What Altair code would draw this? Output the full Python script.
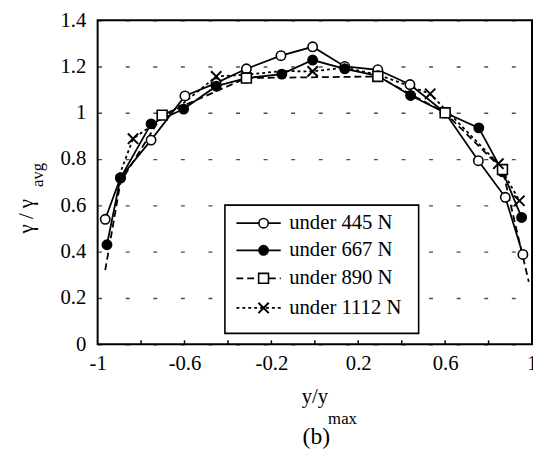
import altair as alt
import pandas as pd

# ---------------- data ----------------
X_445 = [-0.965, -0.895, -0.754, -0.598, -0.455, -0.315, -0.156, -0.010, 0.138, 0.290, 0.438, 0.600, 0.753, 0.877, 0.958]
Y_445 = [0.540, 0.720, 0.882, 1.073, 1.128, 1.190, 1.247, 1.285, 1.200, 1.186, 1.122, 1.000, 0.793, 0.635, 0.388]

X_667 = [-0.957, -0.895, -0.754, -0.604, -0.454, -0.315, -0.152, -0.010, 0.138, 0.290, 0.441, 0.600, 0.755, 0.865, 0.952]
Y_667 = [0.430, 0.718, 0.952, 1.016, 1.115, 1.150, 1.167, 1.228, 1.190, 1.160, 1.075, 1.000, 0.935, 0.745, 0.548]

X_890 = [-0.965, -0.895, -0.703, -0.315, 0.290, 0.600, 0.864, 0.985]
Y_890 = [0.320, 0.700, 0.990, 1.150, 1.157, 1.000, 0.755, 0.270]
M_890 = [False, False, True, True, True, True, True, False]

X_1112 = [-0.900, -0.837, -0.600, -0.454, -0.315, -0.152, -0.010, 0.138, 0.290, 0.438, 0.531, 0.845, 0.942]
Y_1112 = [0.730, 0.888, 1.045, 1.157, 1.165, 1.180, 1.179, 1.195, 1.165, 1.115, 1.082, 0.780, 0.620]
M_1112 = [False, True, False, True, False, False, True, False, False, False, True, True, True]

LABELS = ["under 445 N", "under 667 N", "under 890 N", "under 1112 N"]

X_TICKS = [-1, -0.8, -0.6, -0.4, -0.2, 0, 0.2, 0.4, 0.6, 0.8, 1]
X_MINOR = [-0.8, -0.6, -0.4, -0.2, 0, 0.2, 0.4, 0.6, 0.8]
Y_TICKS = [0, 0.2, 0.4, 0.6, 0.8, 1.0, 1.2, 1.4]

# ---------------- layout / style ----------------
W, H = 441, 329
FONT = "Liberation Serif"
XPATH = "M-1,-1L1,1M-1,1L1,-1"

STYLES = [
    dict(dash=None, shape="circle", fill="white", size=90, sw=1.6),
    dict(dash=None, shape="circle", fill="black", size=90, sw=1.6),
    dict(dash=[7, 4], shape="square", fill="white", size=100, sw=1.6),
    dict(dash=[3, 3], shape=XPATH, fill=None, size=110, sw=2.0),
]

# legend layout in data units
LEG_BOX = dict(x=-0.414, x2=0.478, y=0.047, y2=0.601)
LEG_ROWS = [0.523, 0.406, 0.285, 0.157]
LEG_LINE = (-0.361, -0.157)
LEG_SYM = -0.236
LEG_TEXT = -0.118

xs = alt.Scale(domain=[-1, 1], nice=False, zero=False)
ys = alt.Scale(domain=[0, 1.4], nice=False, zero=False)

xaxis = alt.Axis(
    values=X_TICKS,
    labelExpr="(abs(round(datum.value*10)) % 4 == 2) ? ((datum.value < 0 ? '-' : '') + format(abs(datum.value), '~g')) : ''",
    ticks=False, grid=False, domain=False,
    labelFont=FONT, labelFontSize=21, labelColor="black", labelPadding=9,
    labelFlush=False, labelOverlap=False, labelBound=False, title=None,
)
yaxis = alt.Axis(
    values=Y_TICKS,
    labelExpr="format(datum.value, '~g')",
    ticks=False, grid=True, gridDash=[4, 24], gridColor="black", gridWidth=1.4, gridOpacity=0.7,
    domain=False,
    labelFont=FONT, labelFontSize=21, labelColor="black", labelPadding=12,
    labelOverlap=False, labelBound=False, title=None,
)


def X(field="x"):
    return alt.X(f"{field}:Q", scale=xs, axis=xaxis)


def Y(field="y"):
    return alt.Y(f"{field}:Q", scale=ys, axis=yaxis)


series = [
    (X_445, Y_445, [True] * len(X_445)),
    (X_667, Y_667, [True] * len(X_667)),
    (X_890, Y_890, M_890),
    (X_1112, Y_1112, M_1112),
]

line_layers = []
point_layers = []
for (xv, yv, mv), st in zip(series, STYLES):
    df = pd.DataFrame({"x": xv, "y": yv, "m": mv})
    lkw = dict(color="black", strokeWidth=1.8)
    if st["dash"]:
        lkw["strokeDash"] = st["dash"]
    line_layers.append(alt.Chart(df).mark_line(**lkw).encode(x=X(), y=Y()))
    pkw = dict(shape=st["shape"], size=st["size"], stroke="black", strokeWidth=st["sw"], opacity=1)
    if st["fill"]:
        pkw.update(filled=True, fill=st["fill"])
    else:
        pkw.update(filled=False)
    point_layers.append(
        alt.Chart(df).transform_filter("datum.m").mark_point(**pkw).encode(x=X(), y=Y())
    )

# inward minor ticks on the x axis
tick_df = pd.DataFrame({"x": X_MINOR})
ticks = alt.Chart(tick_df).mark_rule(color="black", strokeWidth=1.5).encode(
    x=X(), y=alt.value(H), y2=alt.value(H - 4)
)

# legend
box = alt.Chart(pd.DataFrame([LEG_BOX])).mark_rect(
    fill="white", stroke="black", strokeWidth=1.6
).encode(x=X(), x2="x2", y=Y(), y2="y2")

legend_layers = [box]
for lab, ry, st in zip(LABELS, LEG_ROWS, STYLES):
    ldf = pd.DataFrame({"x": [LEG_LINE[0]], "x2": [LEG_LINE[1]], "y": [ry]})
    rkw = dict(color="black", strokeWidth=1.8)
    if st["dash"]:
        rkw["strokeDash"] = st["dash"]
    legend_layers.append(alt.Chart(ldf).mark_rule(**rkw).encode(x=X(), x2="x2", y=Y()))
    sdf = pd.DataFrame({"x": [LEG_SYM], "y": [ry]})
    pkw = dict(shape=st["shape"], size=st["size"], stroke="black", strokeWidth=st["sw"], opacity=1)
    if st["fill"]:
        pkw.update(filled=True, fill=st["fill"])
    else:
        pkw.update(filled=False)
    legend_layers.append(alt.Chart(sdf).mark_point(**pkw).encode(x=X(), y=Y()))
    tdf = pd.DataFrame({"x": [LEG_TEXT], "y": [ry], "t": [lab]})
    legend_layers.append(
        alt.Chart(tdf).mark_text(
            align="left", baseline="middle", font=FONT, fontSize=21, color="black"
        ).encode(x=X(), y=Y(), text="t:N")
    )

# axis titles and caption (with subscripts)
one = pd.DataFrame({"a": [0]})


def label(txt, x, y, size, angle=0, baseline="alphabetic", align="center"):
    kw = dict(text=txt, font=FONT, fontSize=size, color="black", baseline=baseline, align=align)
    if angle:
        kw["angle"] = angle
    return alt.Chart(one).mark_text(**kw).encode(x=alt.value(x), y=alt.value(y))


titles = [
    label("\u03b3 / \u03b3", -72, 199, 21, angle=270, baseline="middle"),
    label("avg", -60, 157, 17, angle=270, baseline="middle"),
    label("y/y", 234, 389, 21, align="right", baseline="alphabetic"),
    label("max", 234, 410, 17, align="left", baseline="alphabetic"),
    label("(b)", 222, 430, 24, baseline="alphabetic"),
]

chart = alt.layer(
    *line_layers, *point_layers, ticks, *legend_layers, *titles
).properties(
    width=W, height=H,
    autosize="none",
    padding={"left": 91, "top": 9, "right": 1, "bottom": 108},
    background="white",
).configure_view(stroke="black", strokeWidth=2)

chart.save("out.html", embed_options={"renderer": "svg", "actions": False})
